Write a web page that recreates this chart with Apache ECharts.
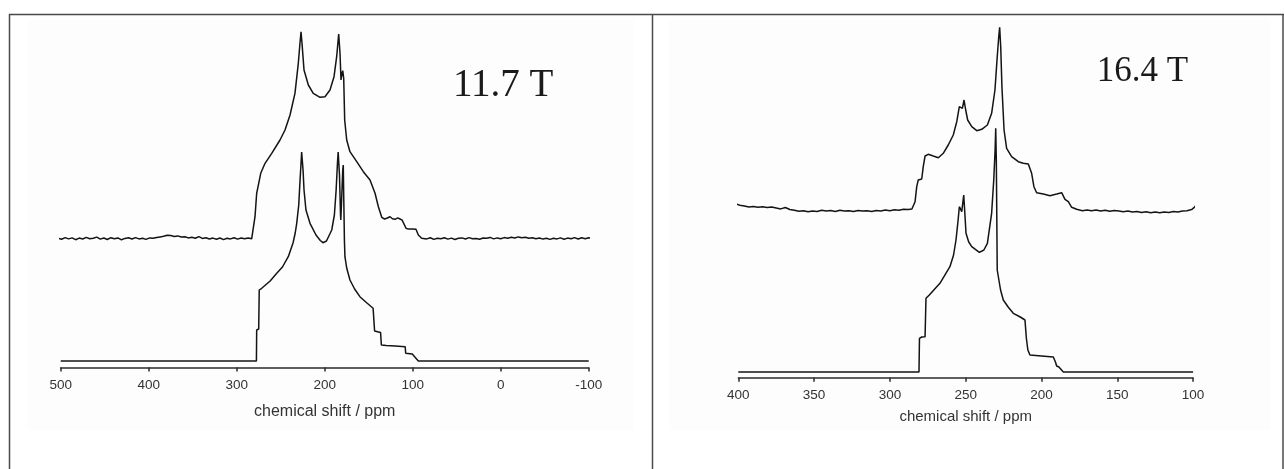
<!DOCTYPE html>
<html>
<head>
<meta charset="utf-8">
<script src="https://cdn.jsdelivr.net/npm/echarts@6/dist/echarts.min.js"></script>
<style>
  html, body { margin: 0; padding: 0; background: #fff; }
  #chart { width: 1284px; height: 469px; }
</style>
</head>
<body>
<div id="chart"></div>
<script>
// spectra as [chemical shift (ppm), intensity above own baseline]
const fieldLeft = '11.7 T'
const fieldRight = '16.4 T'
const axisName = 'chemical shift / ppm'

// 11.7 T, simulated (lower trace)
const simLeft = [[500,0],[277.6,0],[277.3,31],[275,32],[274.4,71],[271.6,72.7],[269.8,74.3],[262,80],[254.5,87.7],
  [248,94],[241.4,104.3],[236,118],[233.5,128],[231.8,137.7],[229.5,156],[228,181],[227,196],[226.2,209],[225.8,211],[225.4,209],
  [224.6,191],[223.5,171],[221.3,151],[216.7,137.7],[209.9,126],[205,120.5],[202,118.3],[198,120],[192,131],[189,146],
  [187,171],[185.5,198],[184.7,209],[184.2,208],[183.2,186],[182,146],[181.7,141],[181,156],[179.5,191],[178.9,196],
  [178.3,161],[177.6,121],[177,104.3],[175,93],[171.3,81],[166,72],[160,64.3],[152,58],[145,52.7],[144.3,51],
  [143.3,30],[136.5,28.5],[135.6,16],[130,15.5],[120,15],[108.5,14.3],[108,7.7],[100.5,7],[99.5,6.5],[93.6,0],[-100,0]]

// 11.7 T, measured (upper trace)
const expLeftBaseA = [[503,0.3],[499,-0.8],[495,0.9],[491,-0.4],[487,0.6],[483,-1.2],[479,0.4],[475,-0.5],[471,1.1],
  [467,-0.3],[463,0.2],[459,1.4],[455,-0.6],[451,0.5],[447,-1.0],[443,0.8],[439,-0.2],[435,0.6],[431,-1.3],[427,0.1],
  [423,0.7],[419,-0.5],[415,0.9],[411,-0.4],[407,0.3],[403,-0.9],[399,0.6],[395,0.2],[391,1.0],[387,1.6],[383,2.2],
  [379,3.3],[375,3.0],[371,2.1],[367,2.6],[363,1.5],[359,1.8],[355,0.6],[351,1.2],[347,0.2],[343,1.9],[339,0.1],
  [335,0.7],[331,-0.5],[327,0.4],[323,-0.7],[319,0.5],[315,-1.1],[311,0.3],[307,-0.4],[303,0.8],[299,-0.6],[295,0.5],
  [291,-0.2],[287,0.6],[283,-0.3]]
const expLeftSignal = [[281.6,0.5],[281.1,0.2],[279.2,21.8],[277.3,45.2],[272.7,65.2],[267.8,75.2],[260.2,85.2],
  [250.8,98.5],[245.1,108.5],[239.4,123.5],[233.8,145.2],[230,175.2],[228.1,195.2],[226.9,206.8],[225.8,195.2],
  [223.5,168.5],[218.6,153.5],[213,145.2],[205.3,141.2],[199.7,141.8],[194,148.5],[189.4,161.8],[186.4,181.8],
  [184.1,204.5],[182.6,185.2],[181.5,158.5],[180.3,165.2],[179.5,167.8],[178.4,160.2],[177.3,118.5],[175,98.5],
  [171.3,86.8],[163.6,76.8],[156.1,66.8],[148.5,58.5],[142.8,45.2],[139,31.8],[135.2,21.2],[132,19.5],[129.5,20.2],
  [127.5,21.5],[125.7,21.8],[123,19.8],[120,19.2],[117,20.6],[114.4,19.5],[112,18.4],[110,17.5],[107.6,10.2],
  [105,9.4],[103,8.5],[100,9.6],[98,8.8],[96.3,9.2],[93.6,3.5],[89.8,0.2]]
const expLeftBaseB = [[88,1.2],[84,-0.4],[80,0.7],[76,-0.9],[72,0.3],[68,-0.2],[64,0.8],[60,-0.6],[56,0.4],[52,-1.0],
  [48,0.2],[44,0.6],[40,-0.5],[36,0.9],[32,-0.3],[28,0.1],[24,-0.8],[20,0.5],[16,0.2],[12,1.1],[8,-0.4],[4,0.6],
  [0,-0.2],[-4,0.9],[-8,0.3],[-12,1.3],[-16,0.5],[-20,1.6],[-24,0.7],[-28,1.2],[-32,0.2],[-36,0.8],[-40,-0.3],
  [-44,0.5],[-48,-0.6],[-52,0.3],[-56,-0.9],[-60,0.2],[-64,-0.4],[-68,0.6],[-72,-0.7],[-76,0.4],[-80,-0.2],[-84,0.9],
  [-88,-0.5],[-92,0.7],[-96,-0.3],[-100,0.8],[-104,-0.2],[-106,0.3]]

// 16.4 T, simulated (lower trace)
const simRight = [[400,0],[280.8,0],[280.5,33.7],[279,35],[276.8,35.3],[276.2,73.7],[274,77],[267,88.7],[260.4,105.3],
  [258,117],[256.4,132],[255,152],[254.2,165.3],[253.8,167],[252.6,160.3],[251.3,177],[250.5,157],[249.8,138.7],
  [248,130],[246,125.3],[241,119.7],[238,122],[235.7,128.7],[232.9,158.7],[231.5,192],[230.6,222],[230.2,243.7],
  [229.8,212],[229.2,102],[227,82],[225.2,72],[222,65],[218.6,58.7],[214,55],[210.9,52],[210,34],[209,22],
  [207.6,17],[200,16],[192.2,15],[190.8,10],[190,6],[188.5,5],[185.6,0],[100,0]]

// 16.4 T, measured (upper trace)
const expRightBaseA = [[414,8.8],[411,8.0],[408,8.4],[405,7.2],[402,6.8],[399,5.3],[396,4.6],[393,3.5],[390,4.0],
  [387,3.2],[384,3.8],[381,2.9],[378,3.4],[375,2.5],[372,1.6],[369,3.0],[366,1.0],[363,0.2],[360,-0.8],[357,-0.2],
  [354,-1.3],[351,-0.4],[348,-0.9],[345,0.2],[342,-0.6],[339,-0.1],[336,-1.0],[333,0.3],[330,-0.5],[327,-0.2],
  [324,-0.9],[321,0.1],[318,-0.6],[315,-0.3],[312,-1.1],[309,0.0],[306,-0.4],[303,0.5],[300,-0.2],[297,0.8],
  [294,0.3],[291,1.2],[288,0.9],[285.5,1.5]]
const expRightSignal = [[284.5,1.2],[283.4,8.8],[282.3,23.8],[281.3,30.5],[279,31.5],[278,43.8],[276.8,54.5],
  [274.7,56.2],[271.4,54.5],[268,52.8],[264.8,57.2],[261.5,65.5],[258.2,75.5],[255.9,88.8],[254.2,103.8],
  [253.1,105.5],[252.2,102.2],[251.1,110.5],[250,100.5],[248.7,90.5],[246,83.8],[242.7,79.8],[239.4,81.2],
  [235.7,85.5],[232.9,97.2],[230.7,120.5],[229.2,153.8],[228.2,173.8],[227.6,183.2],[226.9,163.8],[226.1,123.8],
  [224.7,80.5],[223,62.2],[219.7,53.8],[215.3,48.8],[212,47.2],[208.7,46.5],[206.5,37.2],[205,23.8],[203.2,17.8],
  [198.8,16.5],[194.4,14.8],[190,16.5],[186.7,17.8],[184.5,11.2],[182.3,8.8],[180.1,3.2],[176.8,1.2]]
const expRightBaseB = [[173,-0.3],[170,0.6],[167,-0.2],[164,0.4],[161,-0.6],[158,0.3],[155,-0.8],[152,0.1],
  [149,-0.5],[146,-1.2],[143,-0.6],[140,-1.5],[137,-0.9],[134,-2.0],[131,-1.3],[128,-2.3],[125,-1.6],[122,-2.2],
  [119,-1.4],[116,-2.0],[113,-1.1],[110,-1.5],[107,-0.6],[104,-0.2],[101,0.9],[99,3.5],[97,7.8],[95,7.0],[93,6.2],
  [91,7.3],[89,6.5],[87,7.4],[86,6.9]]

// vertical stacking of the traces
const lift = (trace, off) => trace.map(p => [p[0], p[1] + off])
const expLeft = expLeftBaseA.concat(expLeftSignal, expLeftBaseB)
const expRight = expRightBaseA.concat(expRightSignal, expRightBaseB)

const ink = '#141414'
const axisColor = '#2a2a2a'

function xAxisOf(gridIndex, min, max, step, nameGap, nameSize) {
  return {
    type: 'value', gridIndex, min, max, interval: step, inverse: true,
    name: axisName, nameLocation: 'middle', nameGap,
    nameTextStyle: { fontFamily: 'Liberation Sans', fontSize: nameSize, color: '#333' },
    axisLine: { show: true, onZero: false, lineStyle: { color: axisColor, width: 1.5 } },
    axisTick: { show: true, length: 4, lineStyle: { color: axisColor, width: 1.5 } },
    axisLabel: { fontFamily: 'Liberation Sans', fontSize: 13.5, color: '#333', margin: 11, showMinLabel: true, showMaxLabel: true },
    splitLine: { show: false }
  }
}

function trace(idx, data) {
  return {
    type: 'line', xAxisIndex: idx, yAxisIndex: idx, data,
    symbol: 'none', clip: false, silent: true, animation: false,
    lineStyle: { color: ink, width: 1.5 }
  }
}

const frame = { stroke: '#4a4a4a', lineWidth: 1.5 }

const chart = echarts.init(document.getElementById('chart'))
chart.setOption({
  backgroundColor: '#fff',
  animation: false,
  grid: [
    { left: 60.7, right: 695.3, top: 20, bottom: 101.5 },
    { left: 738.3, right: 90.9, top: 20, bottom: 91.3 }
  ],
  xAxis: [
    xAxisOf(0, -100, 500, 100, 36, 16),
    xAxisOf(1, 100, 400, 50, 32, 15)
  ],
  yAxis: [
    { type: 'value', gridIndex: 0, min: 0, max: 347.5, show: false },
    { type: 'value', gridIndex: 1, min: 0, max: 357.7, show: false }
  ],
  series: [
    trace(0, lift(simLeft, 6.5)),
    trace(0, lift(expLeft, 129)),
    trace(1, lift(simRight, 5.7)),
    trace(1, lift(expRight, 167.2))
  ],
  graphic: [
    { type: 'rect', z: -10, shape: { x: 27, y: 20, width: 607, height: 410 }, style: { fill: '#fdfdfd' } },
    { type: 'rect', z: -10, shape: { x: 669, y: 20, width: 601, height: 410 }, style: { fill: '#fdfdfd' } },
    { type: 'line', shape: { x1: 9, y1: 14.5, x2: 1284, y2: 14.5 }, style: frame },
    { type: 'line', shape: { x1: 9.5, y1: 14, x2: 9.5, y2: 469 }, style: frame },
    { type: 'line', shape: { x1: 652.5, y1: 14, x2: 652.5, y2: 469 }, style: frame },
    { type: 'line', shape: { x1: 1283, y1: 14, x2: 1283, y2: 469 }, style: frame },
    { type: 'text', x: 453, y: 86.1, style: { text: fieldLeft, fontFamily: 'Liberation Serif', fontSize: 39, fill: '#1a1a1a', align: 'left', verticalAlign: 'middle' } },
    { type: 'text', x: 1096.8, y: 72.2, style: { text: fieldRight, fontFamily: 'Liberation Serif', fontSize: 35, fill: '#1a1a1a', align: 'left', verticalAlign: 'middle' } }
  ]
})
</script>
</body>
</html>
